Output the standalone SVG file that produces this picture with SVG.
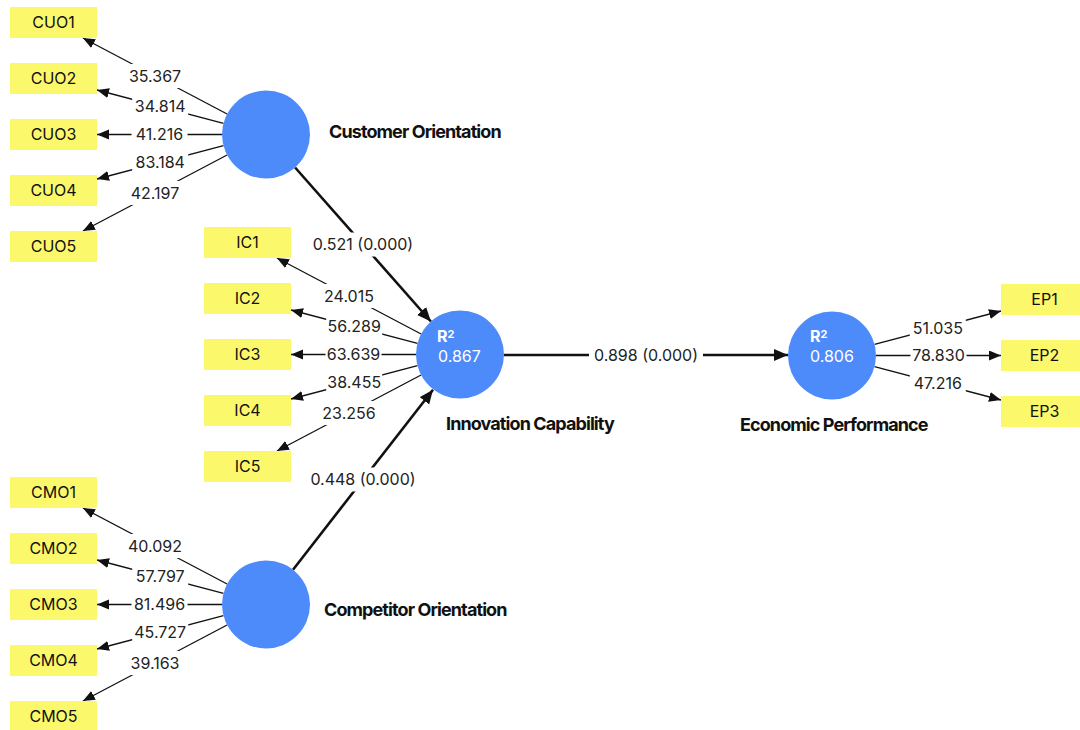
<svg xmlns="http://www.w3.org/2000/svg" width="1080" height="730" viewBox="0 0 1080 730">
<style>
.box{fill:#fcf86c}
.lv{fill:#4d8bfa}
.bt{font-family:Inter,"Liberation Sans",sans-serif;font-size:16px;fill:#111;text-anchor:middle}
.num{font-family:Inter,"Liberation Sans",sans-serif;font-size:16px;fill:#222;text-anchor:middle}
.bg{fill:#fff}
.lvt{font-family:Inter,"Liberation Sans",sans-serif;font-size:18px;font-weight:700;fill:#111;letter-spacing:-0.9px}
.r2{font-family:Inter,"Liberation Sans",sans-serif;font-size:16px;font-weight:700;fill:#fff}
.r2v{font-family:Inter,"Liberation Sans",sans-serif;font-size:16px;fill:#fff}
.thin{stroke:#111;stroke-width:1.3;fill:none;marker-end:url(#ah)}
.thick{stroke:#111;stroke-width:2.6;fill:none;marker-end:url(#ahb)}
</style>
<defs>
<marker id="ah" markerUnits="userSpaceOnUse" markerWidth="13" markerHeight="11" refX="12" refY="5" orient="auto"><path d="M0,0 L12,5 L0,10 z" fill="#111"/></marker>
<marker id="ahb" markerUnits="userSpaceOnUse" markerWidth="15" markerHeight="13" refX="14" refY="6" orient="auto"><path d="M0,0 L14,6 L0,12 z" fill="#111"/></marker>
</defs>
<rect width="1080" height="730" fill="#fff"/>
<g id="connectors">
<line class="thin" x1="227.1" y1="114" x2="82.9" y2="38"/>
<line class="thin" x1="223.5" y1="123.3" x2="97" y2="90"/>
<line class="thin" x1="222" y1="134.5" x2="97" y2="134.5"/>
<line class="thin" x1="223.5" y1="145.7" x2="97" y2="179"/>
<line class="thin" x1="227.1" y1="155" x2="82.9" y2="231"/>
<line class="thin" x1="421.1" y1="334" x2="276.9" y2="258"/>
<line class="thin" x1="417.5" y1="343.3" x2="291" y2="310"/>
<line class="thin" x1="416" y1="354.5" x2="291" y2="354.5"/>
<line class="thin" x1="417.5" y1="365.7" x2="291" y2="399"/>
<line class="thin" x1="421.1" y1="375" x2="276.9" y2="451"/>
<line class="thin" x1="227.1" y1="584" x2="82.9" y2="508"/>
<line class="thin" x1="223.5" y1="593.3" x2="97" y2="560"/>
<line class="thin" x1="222" y1="604.5" x2="97" y2="604.5"/>
<line class="thin" x1="223.5" y1="615.7" x2="97" y2="649"/>
<line class="thin" x1="227.1" y1="625" x2="82.9" y2="701"/>
<line class="thin" x1="874.5" y1="344.3" x2="1001" y2="311"/>
<line class="thin" x1="876" y1="355.5" x2="1001" y2="355.5"/>
<line class="thin" x1="874.5" y1="366.7" x2="1001" y2="400"/>
<line class="thick" x1="295.1" y1="167.5" x2="430.9" y2="321.5"/>
<line class="thick" x1="293" y1="569.7" x2="433" y2="389.7"/>
<line class="thick" x1="504" y1="355" x2="788" y2="355"/>
<g id="loading-labels">
<rect class="bg" x="127" y="64" width="56" height="24"/><text class="num" x="155" y="81.8">35.367</text>
<rect class="bg" x="132.2" y="94.6" width="56" height="24"/><text class="num" x="160.2" y="112.4">34.814</text>
<rect class="bg" x="131.5" y="122.5" width="56" height="24"/><text class="num" x="159.5" y="140.3">41.216</text>
<rect class="bg" x="132.2" y="150.4" width="56" height="24"/><text class="num" x="160.2" y="168.2">83.184</text>
<rect class="bg" x="127" y="181" width="56" height="24"/><text class="num" x="155" y="198.8">42.197</text>
<rect class="bg" x="321" y="284" width="56" height="24"/><text class="num" x="349" y="301.8">24.015</text>
<rect class="bg" x="326.2" y="314.6" width="56" height="24"/><text class="num" x="354.2" y="332.4">56.289</text>
<rect class="bg" x="325.5" y="342.5" width="56" height="24"/><text class="num" x="353.5" y="360.3">63.639</text>
<rect class="bg" x="326.2" y="370.4" width="56" height="24"/><text class="num" x="354.2" y="388.2">38.455</text>
<rect class="bg" x="321" y="401" width="56" height="24"/><text class="num" x="349" y="418.8">23.256</text>
<rect class="bg" x="127" y="534" width="56" height="24"/><text class="num" x="155" y="551.8">40.092</text>
<rect class="bg" x="132.2" y="564.6" width="56" height="24"/><text class="num" x="160.2" y="582.4">57.797</text>
<rect class="bg" x="131.5" y="592.5" width="56" height="24"/><text class="num" x="159.5" y="610.3">81.496</text>
<rect class="bg" x="132.2" y="620.4" width="56" height="24"/><text class="num" x="160.2" y="638.2">45.727</text>
<rect class="bg" x="127" y="651" width="56" height="24"/><text class="num" x="155" y="668.8">39.163</text>
<rect class="bg" x="909.8" y="315.7" width="56" height="24"/><text class="num" x="937.8" y="333.5">51.035</text>
<rect class="bg" x="910.5" y="343.5" width="56" height="24"/><text class="num" x="938.5" y="361.3">78.830</text>
<rect class="bg" x="909.8" y="371.4" width="56" height="24"/><text class="num" x="937.8" y="389.2">47.216</text>
</g>
<g id="path-labels">
<rect class="bg" x="306" y="232.5" width="114" height="24"/><text class="num" x="363" y="250.3">0.521 (0.000)</text>
<rect class="bg" x="306" y="467.5" width="114" height="24"/><text class="num" x="363" y="485.3">0.448 (0.000)</text>
<rect class="bg" x="589" y="343" width="114" height="24"/><text class="num" x="646" y="360.8">0.898 (0.000)</text>
</g>
</g>
<g id="CUO1"><rect class="box" x="10" y="7" width="87" height="31"/><text class="bt" x="53.5" y="28.3">CUO1</text></g>
<g id="CUO2"><rect class="box" x="10" y="63" width="87" height="31"/><text class="bt" x="53.5" y="84.3">CUO2</text></g>
<g id="CUO3"><rect class="box" x="10" y="119" width="87" height="31"/><text class="bt" x="53.5" y="140.3">CUO3</text></g>
<g id="CUO4"><rect class="box" x="10" y="175" width="87" height="31"/><text class="bt" x="53.5" y="196.3">CUO4</text></g>
<g id="CUO5"><rect class="box" x="10" y="231" width="87" height="31"/><text class="bt" x="53.5" y="252.3">CUO5</text></g>
<g id="IC1"><rect class="box" x="204" y="227" width="87" height="31"/><text class="bt" x="247.5" y="248.3">IC1</text></g>
<g id="IC2"><rect class="box" x="204" y="283" width="87" height="31"/><text class="bt" x="247.5" y="304.3">IC2</text></g>
<g id="IC3"><rect class="box" x="204" y="339" width="87" height="31"/><text class="bt" x="247.5" y="360.3">IC3</text></g>
<g id="IC4"><rect class="box" x="204" y="395" width="87" height="31"/><text class="bt" x="247.5" y="416.3">IC4</text></g>
<g id="IC5"><rect class="box" x="204" y="451" width="87" height="31"/><text class="bt" x="247.5" y="472.3">IC5</text></g>
<g id="CMO1"><rect class="box" x="10" y="477" width="87" height="31"/><text class="bt" x="53.5" y="498.3">CMO1</text></g>
<g id="CMO2"><rect class="box" x="10" y="533" width="87" height="31"/><text class="bt" x="53.5" y="554.3">CMO2</text></g>
<g id="CMO3"><rect class="box" x="10" y="589" width="87" height="31"/><text class="bt" x="53.5" y="610.3">CMO3</text></g>
<g id="CMO4"><rect class="box" x="10" y="645" width="87" height="31"/><text class="bt" x="53.5" y="666.3">CMO4</text></g>
<g id="CMO5"><rect class="box" x="10" y="701" width="87" height="31"/><text class="bt" x="53.5" y="722.3">CMO5</text></g>
<g id="EP1"><rect class="box" x="1001" y="284" width="87" height="31"/><text class="bt" x="1044.5" y="305.3">EP1</text></g>
<g id="EP2"><rect class="box" x="1001" y="340" width="87" height="31"/><text class="bt" x="1044.5" y="361.3">EP2</text></g>
<g id="EP3"><rect class="box" x="1001" y="396" width="87" height="31"/><text class="bt" x="1044.5" y="417.3">EP3</text></g>
<g id="customer-orientation"><circle class="lv" cx="266" cy="134.5" r="44"/><text class="lvt" x="329" y="138">Customer Orientation</text></g>
<g id="innovation-capability"><circle class="lv" cx="460" cy="354.5" r="44"/><text class="r2" x="437" y="342">R<tspan font-size="11" dy="-4">2</tspan></text><text class="r2v" x="438" y="361.5">0.867</text><text class="lvt" x="446" y="429.5">Innovation Capability</text></g>
<g id="competitor-orientation"><circle class="lv" cx="266" cy="604.5" r="44"/><text class="lvt" x="324" y="615.5">Competitor Orientation</text></g>
<g id="economic-performance"><circle class="lv" cx="832" cy="355.5" r="44"/><text class="r2" x="810" y="342">R<tspan font-size="11" dy="-4">2</tspan></text><text class="r2v" x="810" y="361.5">0.806</text><text class="lvt" x="740" y="430.5">Economic Performance</text></g>
</svg>
